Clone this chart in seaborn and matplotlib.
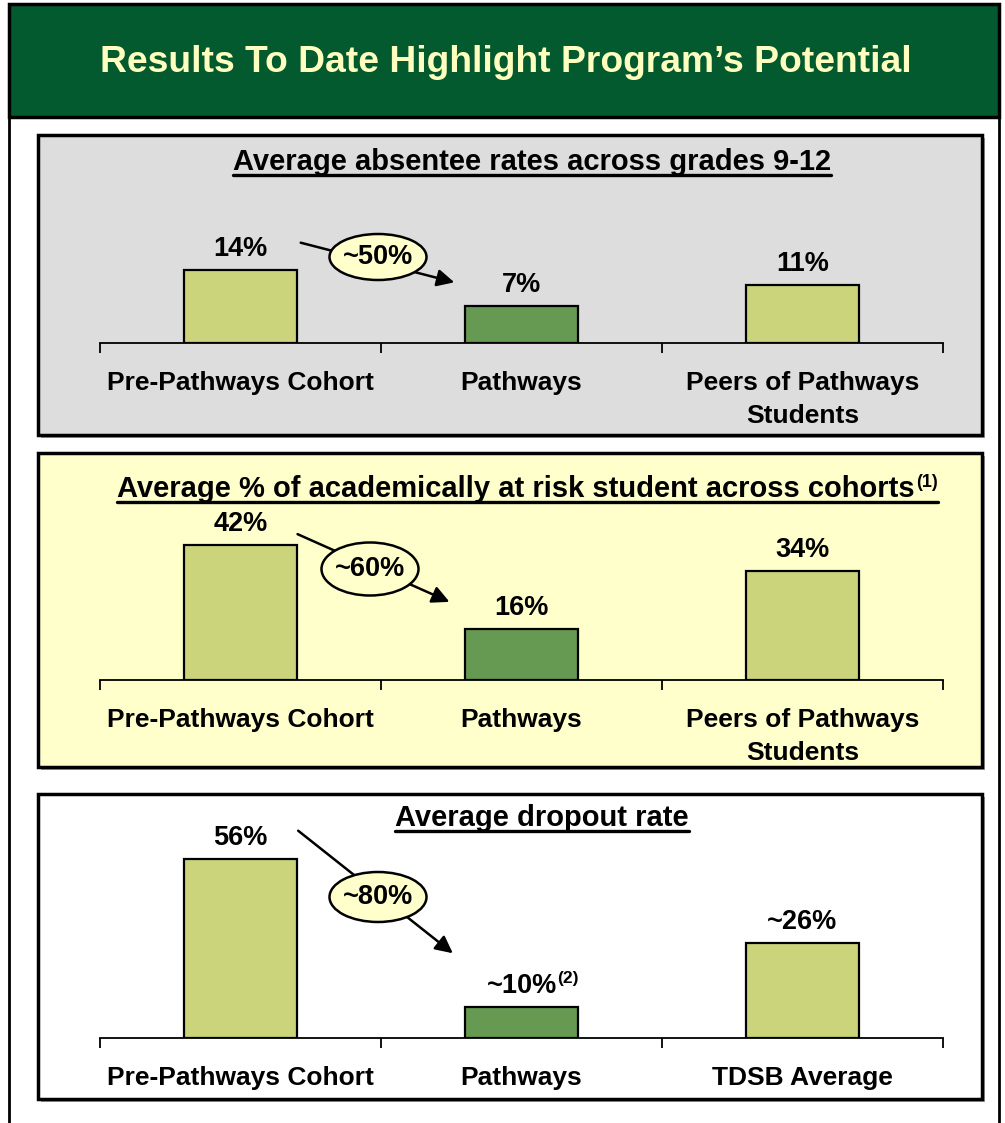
import matplotlib
matplotlib.use("Agg")
import matplotlib.pyplot as plt
from matplotlib.patches import Rectangle, Ellipse, FancyArrowPatch
from matplotlib.lines import Line2D
import seaborn as sns
import pandas as pd

# ---------------- data ----------------
header_title = "Results To Date Highlight Program\u2019s Potential"

absentee_title = "Average absentee rates across grades 9-12"
absentee_cats = ["Pre-Pathways Cohort", "Pathways", "Peers of Pathways\nStudents"]
absentee_vals = [14, 7, 11]
absentee_labels = ["14%", "7%", "11%"]
absentee_change = "~50%"

risk_title = "Average % of academically at risk student across cohorts"
risk_note = "(1)"
risk_cats = ["Pre-Pathways Cohort", "Pathways", "Peers of Pathways\nStudents"]
risk_vals = [42, 16, 34]
risk_labels = ["42%", "16%", "34%"]
risk_change = "~60%"

dropout_title = "Average dropout rate"
dropout_cats = ["Pre-Pathways Cohort", "Pathways", "TDSB Average"]
dropout_vals = [56, 9.7, 29.7]
dropout_labels = ["56%", "~10%", "~26%"]
dropout_notes = ["", "(2)", ""]
dropout_change = "~80%"

# ---------------- style ----------------
W, H = 1005, 1123
LIGHT = "#CCD47B"
DARK = "#669952"
GREEN_HDR = "#035A2E"
PALE = "#FFFFCC"
FONT = ["Liberation Sans", "DejaVu Sans"]

sns.set_theme(style="white")
plt.rcParams["font.family"] = FONT
plt.rcParams["font.weight"] = "bold"

fig = plt.figure(figsize=(W / 100, H / 100), dpi=100)
fig.patch.set_facecolor("white")


def fx(px):
    return px / W


def fy(py):
    return 1 - py / H


def frect(x0, y0, x1, y1, **kw):
    r = Rectangle((fx(x0), fy(y1)), fx(x1) - fx(x0), fy(y0) - fy(y1),
                  transform=fig.transFigure, **kw)
    fig.add_artist(r)
    return r


# outer frame and header
frect(9, 4, 999, 1135, facecolor="white", edgecolor="black", lw=2, zorder=-5)
frect(9, 4, 999, 117, facecolor=GREEN_HDR, edgecolor="black", lw=2.5, zorder=-4)
fig.text(fx(506), fy(63), header_title, ha="center", va="center",
         fontsize=26.8, fontweight="bold", color="#FFFFC0", family=FONT)

panels = [
    dict(box=(38, 135, 982, 435), bg="#DDDDDD", base=343, axh=170, scale=5.25,
         title=absentee_title, tx=532, ty=170, note="",
         cats=absentee_cats, vals=absentee_vals, labels=absentee_labels, notes=["", "", ""],
         change=absentee_change, ell=(378, 257, 97, 46), arr=((298, 242), (457, 283))),
    dict(box=(38, 453, 982, 767), bg=PALE, base=680, axh=160, scale=3.21,
         title=risk_title, tx=516, ty=497, note=risk_note,
         cats=risk_cats, vals=risk_vals, labels=risk_labels, notes=["", "", ""],
         change=risk_change, ell=(370, 569, 97, 53), arr=((295, 533), (452, 603))),
    dict(box=(38, 794, 982, 1099), bg="white", base=1038, axh=205, scale=3.2,
         title=dropout_title, tx=542, ty=826, note="",
         cats=dropout_cats, vals=dropout_vals, labels=dropout_labels, notes=dropout_notes,
         change=dropout_change, ell=(378, 897, 97, 50), arr=((296, 829), (455, 955))),
]

titles = []
for p in panels:
    x0, y0, x1, y1 = p["box"]
    # shadow + panel
    frect(x0 + 3, y0 + 3, x1 + 3, y1 + 3, facecolor="#A0A0A0", edgecolor="none", zorder=-3)
    frect(x0, y0, x1, y1, facecolor=p["bg"], edgecolor="black", lw=2.5, zorder=-2)

    left, right = 100, 943
    ax = fig.add_axes([fx(left), fy(p["base"]), (right - left) / W, p["axh"] / H])
    ax.patch.set_alpha(0)
    df = pd.DataFrame({"cat": p["cats"], "val": p["vals"]})
    sns.barplot(data=df, x="cat", y="val", hue="cat", palette=[LIGHT, DARK, LIGHT],
                legend=False, width=0.4, edgecolor="black", linewidth=1.6,
                saturation=1, ax=ax)
    ax.set_xlim(-0.5, 2.5)
    ax.set_ylim(0, p["axh"] / p["scale"])
    ax.set_xlabel("")
    ax.set_ylabel("")
    ax.set_yticks([])
    for s in ["top", "right", "left"]:
        ax.spines[s].set_visible(False)
    ax.spines["bottom"].set_color("black")
    ax.spines["bottom"].set_linewidth(1.3)
    ax.set_xticks([-0.5, 0.5, 1.5, 2.5], minor=True)
    ax.tick_params(axis="x", which="minor", length=7, width=1.3, color="black",
                   direction="out", bottom=True)
    ax.tick_params(axis="x", which="major", length=0, pad=20.5)
    ax.set_xticks(range(3))
    ax.set_xticklabels(p["cats"], fontsize=19, fontweight="bold",
                       family=FONT, linespacing=1.45, color="black")

    for i, (v, lab, nt) in enumerate(zip(p["vals"], p["labels"], p["notes"])):
        t = ax.annotate(lab, xy=(i, v), xytext=(0, 21), textcoords="offset pixels",
                        ha="center", va="center", fontsize=19.5, fontweight="bold",
                        family=FONT, color="black", annotation_clip=False)
        if nt:
            ax.annotate(nt, xy=(1, 0.78), xycoords=t, ha="left", va="center",
                        fontsize=12.5, fontweight="bold", family=FONT, color="black")

    # change callout
    (ax0, ay0), (ax1, ay1) = p["arr"]
    fig.add_artist(FancyArrowPatch((fx(ax0), fy(ay0)), (fx(ax1), fy(ay1)),
                                   transform=fig.transFigure, arrowstyle="-|>",
                                   mutation_scale=26, lw=1.8, color="black", zorder=5))
    ex, ey, ew, eh = p["ell"]
    fig.add_artist(Ellipse((fx(ex), fy(ey)), ew / W, eh / H, transform=fig.transFigure,
                           facecolor=PALE, edgecolor="black", lw=1.8, zorder=6))
    fig.text(fx(ex), fy(ey), p["change"], ha="center", va="center", fontsize=19.5,
             fontweight="bold", family=FONT, color="black", zorder=7)

    tt = fig.text(fx(p["tx"]), fy(p["ty"]), p["title"], ha="center", va="baseline",
                  fontsize=21, fontweight="bold", family=FONT, color="black")
    titles.append((tt, p))

fig.canvas.draw()
renderer = fig.canvas.get_renderer()
for tt, p in titles:
    bb = tt.get_window_extent(renderer)
    x_end = bb.x1
    if p["note"]:
        sup = fig.text(bb.x1 / W + 1 / W, fy(p["ty"]) + 10 / H, p["note"], ha="left",
                       va="baseline", fontsize=13, fontweight="bold", family=FONT,
                       color="black")
        x_end = sup.get_window_extent(renderer).x1
    yline = fy(p["ty"]) - 5 / H
    fig.add_artist(Line2D([bb.x0 / W, x_end / W], [yline, yline],
                          transform=fig.transFigure, color="black", lw=2.4))

fig.savefig("out.png", dpi=100, facecolor="white")
